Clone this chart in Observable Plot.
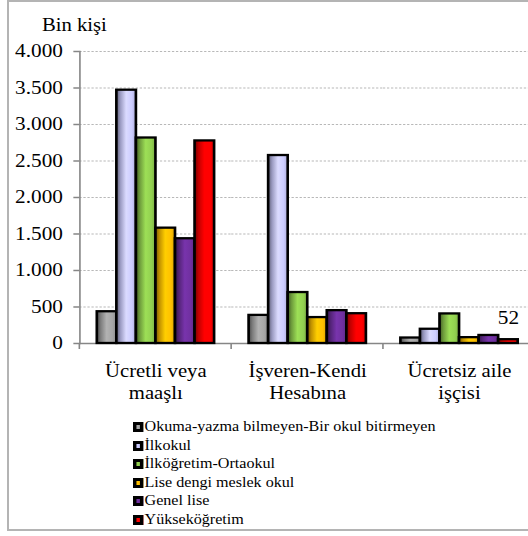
<!DOCTYPE html>
<html>
<head>
<meta charset="utf-8">
<script src="https://cdn.jsdelivr.net/npm/d3@7"></script>
<script src="https://cdn.jsdelivr.net/npm/@observablehq/plot@0.6"></script>
<style>
  html, body { margin: 0; padding: 0; background: #fff; overflow: hidden; }
  #wrap { position: relative; width: 528px; height: 536px; overflow: hidden; font-family: "Liberation Serif", "Times New Roman", serif; }
  #frame { position: absolute; left: 7px; top: 0px; width: 545px; height: 531px; border: 2px solid #b4b4b4; box-sizing: border-box; }
  #chart { position: absolute; left: 0; top: 0; transform: scaleX(1.15); transform-origin: 0 0; }
  #chart svg { max-width: none !important; display: block; }
  #legend { position: absolute; left: 133px; top: 418px; font-size: 14px; line-height: 18.6px; color: #000; white-space: nowrap; transform: scaleX(1.15); transform-origin: 0 0; }
  #legend .sw { display: inline-block; width: 9px; height: 10px; box-sizing: border-box; border: 3px solid #000; margin-right: 1px; vertical-align: -1px; }
</style>
</head>
<body>
<div id="wrap">
  <div id="frame"></div>
  <div id="chart"></div>
  <div id="legend"></div>
</div>
<script>
// ---- data ----
const categories = ["Ücretli veya maaşlı", "İşveren-Kendi Hesabına", "Ücretsiz aile işçisi"];
const categoryLabels = ["Ücretli veya\nmaaşlı", "İşveren-Kendi\nHesabına", "Ücretsiz aile\nişçisi"];
const series = [
  "Okuma-yazma bilmeyen-Bir okul bitirmeyen",
  "İlkokul",
  "İlköğretim-Ortaokul",
  "Lise dengi meslek okul",
  "Genel lise",
  "Yükseköğretim"
];
const seriesColors = ["#a6a6a6", "#ccccff", "#92d050", "#ffc000", "#7030a0", "#ff0000"];
const valuesUcretli = [435, 3470, 2815, 1580, 1435, 2775];
const valuesIsveren = [385, 2575, 698, 355, 450, 408];
const valuesUcretsiz = [75, 195, 405, 80, 110, 52];
const yTicks = [0, 500, 1000, 1500, 2000, 2500, 3000, 3500, 4000];
const yUnit = "Bin kişi";
const labeledPoint = { category: "Ücretsiz aile işçisi", series: "Yükseköğretim" };

// ---- table ----
const valueRows = [valuesUcretli, valuesIsveren, valuesUcretsiz];
const data = [];
categories.forEach((c, i) => series.forEach((s, j) => data.push({ category: c, series: s, value: valueRows[i][j] })));
const labelData = data.filter(d => d.category === labeledPoint.category && d.series === labeledPoint.series);

const trFormat = d3.formatLocale({ decimal: ",", thousands: ".", grouping: [3], currency: ["", ""] }).format(",d");
const font = "'Liberation Serif', 'Times New Roman', serif";
const stretch = 1.15; // the reference text is horizontally widened

const chart = Plot.plot({
  width: 545 / stretch,
  height: 410,
  marginLeft: 78 / stretch,
  marginRight: 10 / stretch,
  marginTop: 51,
  marginBottom: 67,
  style: { fontFamily: font, fontSize: "18px", background: "transparent", color: "#000", overflow: "visible", maxWidth: "none" },
  fx: { domain: categories, padding: 0, axis: null, label: null },
  x: { domain: series, paddingInner: 0, paddingOuter: 0.7, axis: null },
  y: { domain: [0, 4000], axis: null },
  marks: [
    Plot.gridY(yTicks.filter(d => d > 0), { stroke: "#b8b8b8", strokeOpacity: 1, strokeDasharray: "2,1.5" }),
    Plot.frame({ anchor: "left", facetAnchor: "left", stroke: "#868686", strokeWidth: 1.4 }),
    Plot.axisY(yTicks, { tickSize: 6 / stretch, tickPadding: 11 / stretch, stroke: "#868686", strokeWidth: 1.5, tickFormat: trFormat, label: null, fontSize: 18.5, fill: "#000", fontFamily: font }),
    Plot.ruleY([0], { stroke: "#868686", strokeWidth: 1.5 }),
    Plot.barY(data, {
      fx: "category", x: "series", y: "value",
      fill: d => `url(#grad${series.indexOf(d.series)})`,
      stroke: "#000", strokeWidth: 2.3
    }),
    Plot.text(labelData, { fx: "category", x: "series", y: "value", text: d => String(d.value), lineAnchor: "middle", dy: -22, fontSize: 18.5, fontFamily: font }),
    Plot.axisFx({ anchor: "bottom", tickSize: 0, tickPadding: 18, tickFormat: d => categoryLabels[categories.indexOf(d)], fontSize: 18, lineHeight: 1.22, label: null, fontFamily: font }),
    Plot.text([yUnit], { frameAnchor: "top-left", facetAnchor: "left", textAnchor: "start", lineAnchor: "middle", dx: -38 / stretch, dy: -26, fontSize: 18, fontFamily: font })
  ]
});

// gradients for the cylinder-like shading
const svg = d3.select(chart);
const defs = svg.insert("defs", ":first-child");
seriesColors.forEach((c, i) => {
  const g = defs.append("linearGradient").attr("id", "grad" + i).attr("x1", "0").attr("x2", "1").attr("y1", "0").attr("y2", "0");
  const base = d3.color(c);
  const stops = [
    [0, base.darker(2.2)],
    [0.2, base.darker(0.8)],
    [0.5, base.brighter(0.2)],
    [0.8, base],
    [1, base.darker(0.5)]
  ];
  stops.forEach(([o, col]) => g.append("stop").attr("offset", o).attr("stop-color", col.formatHex()));
});

// category boundary ticks derived from the fx scale
const fx = chart.scale("fx");
const y = chart.scale("y");
const y0 = y.apply(0);
const bounds = fx.domain.map(d => fx.apply(d));
bounds.push(fx.apply(fx.domain[fx.domain.length - 1]) + fx.bandwidth);
svg.append("g").selectAll("line").data(bounds).join("line")
  .attr("x1", d => d).attr("x2", d => d)
  .attr("y1", y0).attr("y2", y0 + 6)
  .attr("stroke", "#868686").attr("stroke-width", 1.4);

document.getElementById("chart").appendChild(chart);

// legend
const legend = d3.select("#legend");
series.forEach((s, i) => {
  const row = legend.append("div");
  row.append("span").attr("class", "sw").style("background", seriesColors[i]);
  row.append("span").text(s);
});
</script>
</body>
</html>
